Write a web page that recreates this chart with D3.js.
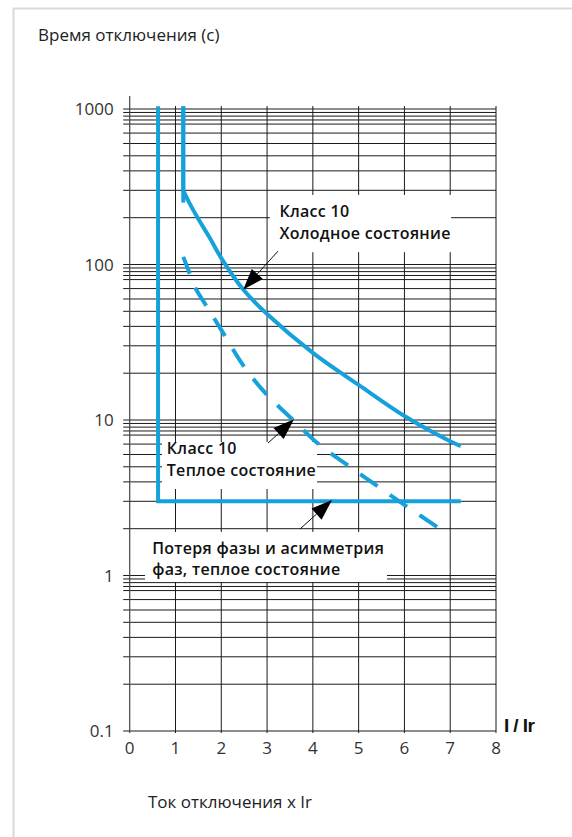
<!DOCTYPE html>
<html>
<head>
<meta charset="utf-8">
<script src="https://cdn.jsdelivr.net/npm/d3@7"></script>
<style>
  html, body { margin: 0; padding: 0; background: #fff; }
  svg { display: block; }
</style>
</head>
<body>
<svg id="chart" width="572" height="837"></svg>
<script>
// ---------- data ----------
const xTicks = [0, 1, 2, 3, 4, 5, 6, 7, 8];
const yTicks = [0.1, 1, 10, 100, 1000];
const yTickLabels = ["0.1", "1", "10", "100", "1000"];
const minorMultipliers = [2, 3, 4, 5, 6, 7, 8, 8.5, 9, 9.5];

// outer envelope (vertical limit + phase loss / asymmetry level)
const envelopeX = [0.62, 0.62, 7.23];
const envelopeY = [1040, 3, 3];

// Class 10 cold state
const coldVertical = [[1.17, 1040], [1.17, 300]];
const coldX = [1.17, 1.3, 1.5, 1.75, 2.0, 2.48, 3.0, 4.0, 5.0, 6.0, 7.0, 7.23];
const coldY = [300, 250, 196, 148, 110, 69, 48, 27, 16.8, 10.6, 7.3, 6.8];

// Class 10 warm state (dashed)
const warmVertical = [[1.17, 1040], [1.17, 250]];
const warmX = [1.17, 1.32, 1.43, 1.75, 2.0, 2.5, 3.0, 3.57, 4.15, 4.81, 5.5, 6.1, 6.75];
const warmY = [112, 86, 71, 50, 38, 22, 14.5, 10, 6.9, 5.0, 3.6, 2.72, 2.02];

const titleY = "Время отключения (с)";
const titleX = "Ток отключения x Ir";
const unitX = "I / Ir";

// annotations (positions in data units)
const annotations = [
  { lines: ["Класс 10", "Холодное состояние"], box: [3.06, 7.02, 280, 120], text: [3.27, 203, 146],
    arrow: { from: [3.24, 122], to: [2.48, 69] } },
  { lines: ["Класс 10", "Теплое состояние"], box: [0.705, 4.09, 7.22, 3.6], text: [0.81, 6.0, 4.37],
    arrow: { from: [3.02, 7.1], to: [3.59, 10.1] } },
  { lines: ["Потеря фазы и асимметрия", "фаз, теплое состояние"], box: [0.334, 5.62, 1.905, 0.908], text: [0.49, 1.368, 1.007],
    arrow: { from: [3.72, 1.99], to: [4.42, 3.06] } }
];

// ---------- layout ----------
const svg = d3.select("#chart");
const x = d3.scaleLinear().domain([0, 8]).range([129.7, 496]);
const y = d3.scaleLog().domain([0.1, 1000]).range([731, 109]);
const blue = "#17a1dc";
const gridColor = "#1a1a1a";
const font = "'Open Sans', 'Noto Sans', sans-serif";

// frame
svg.append("rect").attr("x", 13.5).attr("y", 8.5).attr("width", 600).attr("height", 900)
  .attr("fill", "none").attr("stroke", "#d9d9d9").attr("stroke-width", 2);

// horizontal grid values
const hVals = [];
for (let e = -1; e <= 3; e++) {
  const d = Math.pow(10, e);
  hVals.push(d);
  if (e < 3) minorMultipliers.forEach(m => hVals.push(d * m));
}
svg.append("g").selectAll("line").data(hVals).join("line")
  .attr("x1", x(0) - 6.5).attr("x2", x(8))
  .attr("y1", d => y(d)).attr("y2", d => y(d))
  .attr("stroke", gridColor).attr("stroke-width", 1);

// vertical grid
svg.append("g").selectAll("line").data(xTicks.slice(1)).join("line")
  .attr("x1", d => x(d)).attr("x2", d => x(d))
  .attr("y1", y(1045)).attr("y2", y(0.1) + 2)
  .attr("stroke", gridColor).attr("stroke-width", 1);

// y axis line (taller)
svg.append("line").attr("x1", x(0)).attr("x2", x(0))
  .attr("y1", y(1000) - 13).attr("y2", y(0.1) + 2)
  .attr("stroke", "#444").attr("stroke-width", 1.2);

// tick labels
svg.append("g").selectAll("text").data(yTicks).join("text")
  .attr("x", x(0) - 16).attr("y", d => y(d)).attr("dy", "0.36em")
  .attr("text-anchor", "end").attr("font-family", font).attr("font-size", 17)
  .attr("fill", "#333").text((d, i) => yTickLabels[i]);
svg.append("g").selectAll("text").data(xTicks).join("text")
  .attr("x", d => x(d)).attr("y", 754)
  .attr("text-anchor", "middle").attr("font-family", font).attr("font-size", 17)
  .attr("fill", "#333").text(d => d);

// axis titles
svg.append("text").attr("x", 38).attr("y", 41).attr("font-family", font).attr("font-size", 17)
  .attr("fill", "#222").text(titleY);
svg.append("text").attr("x", 148).attr("y", 808).attr("font-family", font).attr("font-size", 17)
  .attr("fill", "#222").text(titleX);
svg.append("text").attr("x", 504).attr("y", 732)
  .attr("font-family", "'Liberation Sans Narrow', 'Liberation Sans', Arial, sans-serif")
  .attr("font-weight", "bold").attr("font-size", 19).attr("letter-spacing", -0.6)
  .attr("fill", "#111").text(unitX);

// annotation boxes (white, covering grid)
const ann = svg.append("g");
annotations.forEach(a => {
  const [bx0, bx1, by0, by1] = a.box;
  ann.append("rect").attr("x", x(bx0)).attr("y", y(by0))
    .attr("width", x(bx1) - x(bx0)).attr("height", y(by1) - y(by0)).attr("fill", "#fff");
});

// curves
const line = d3.line().x(d => x(d[0])).y(d => y(d[1]));
const smooth = d3.line().x(d => x(d[0])).y(d => y(d[1])).curve(d3.curveCatmullRom.alpha(0.5));
const curves = svg.append("g").attr("fill", "none").attr("stroke", blue).attr("stroke-width", 4);

curves.append("path").attr("d", line(envelopeX.map((v, i) => [v, envelopeY[i]])));
curves.append("path").attr("d", line(warmVertical));
const coldPts = coldX.map((v, i) => [v, coldY[i]]);
curves.append("path").attr("d", line(coldVertical) + smooth(coldPts).replace(/^M/, "L"));
curves.append("path").attr("d", smooth(warmX.map((v, i) => [v, warmY[i]])))
  .attr("stroke-dasharray", "21,15").attr("stroke-dashoffset", 3);

// annotation text + arrows
annotations.forEach(a => {
  const [tx, ty1, ty2] = a.text;
  [ty1, ty2].forEach((ty, i) => {
    ann.append("text").attr("x", x(tx)).attr("y", y(ty))
      .attr("font-family", font).attr("font-weight", 600).attr("font-size", 16)
      .attr("letter-spacing", 0.3).attr("fill", "#111").text(a.lines[i]);
  });
  const x1 = x(a.arrow.from[0]), y1 = y(a.arrow.from[1]);
  const x2 = x(a.arrow.to[0]), y2 = y(a.arrow.to[1]);
  const ang = Math.atan2(y2 - y1, x2 - x1);
  const L = 21, W = 7.5;
  const bx = x2 - L * Math.cos(ang), by = y2 - L * Math.sin(ang);
  svg.append("line").attr("x1", x1).attr("y1", y1).attr("x2", bx).attr("y2", by)
    .attr("stroke", "#111").attr("stroke-width", 1);
  const p1 = [bx + W * Math.sin(ang), by - W * Math.cos(ang)];
  const p2 = [bx - W * Math.sin(ang), by + W * Math.cos(ang)];
  svg.append("path").attr("d", `M${x2},${y2}L${p1[0]},${p1[1]}L${p2[0]},${p2[1]}Z`).attr("fill", "#000");
});
</script>
</body>
</html>
